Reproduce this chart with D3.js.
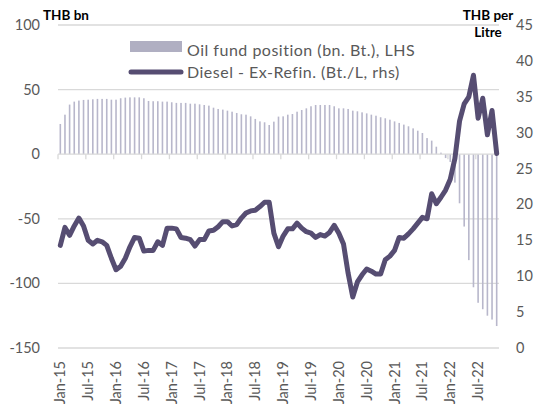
<!DOCTYPE html>
<html>
<head>
<meta charset="utf-8">
<script src="https://cdn.jsdelivr.net/npm/d3@7"></script>
<style>
  body { margin: 0; background: #fff; }
  svg text { font-family: Lato, "Open Sans", sans-serif; }
</style>
</head>
<body>
<div id="chart"></div>
<script>
// Monthly categories Jan-15 .. Nov-22
const months = d3.utcMonth.range(new Date(Date.UTC(2015, 0, 1)), new Date(Date.UTC(2022, 11, 1)));

// Oil fund position, THB bn (left axis)
const oilFund = [
    23.4, 30.6, 38.4, 40.7, 41.5, 42.0, 42.2, 42.5, 42.8, 42.8, 42.8, 42.2,
    42.2, 43.3, 43.8, 44.0, 44.0, 44.0, 43.3, 41.2, 41.0, 41.0, 40.7, 40.7,
    40.2, 39.7, 39.7, 39.7, 39.1, 39.1, 38.6, 38.1, 37.6, 36.0, 35.0, 34.5,
    33.7, 32.9, 31.9, 30.9, 30.6, 29.3, 27.3, 25.4, 24.7, 22.6, 25.2, 29.1,
    29.3, 30.6, 31.1, 32.9, 34.2, 35.5, 37.1, 38.1, 38.1, 38.1, 38.1, 37.1,
    35.5, 35.5, 35.0, 33.7, 33.2, 32.4, 31.6, 30.6, 29.8, 28.6, 27.8, 26.7,
    25.4, 24.2, 22.9, 21.6, 20.0, 18.2, 16.4, 12.5, 10.5, 5.8, 1.2, -3,
    -6, -22, -38, -56, -82, -103, -115, -120, -125, -128, -133
];

// Diesel ex-refinery price, Bt./L (right axis)
const diesel = [
    14.3, 16.8, 15.7, 17.0, 18.1, 17.0, 15.0, 14.5, 15.0, 14.8, 14.3, 12.5,
    10.9, 11.4, 12.5, 14.1, 15.4, 15.3, 13.5, 13.6, 13.6, 14.8, 14.3, 16.7,
    16.7, 16.6, 15.4, 15.3, 15.1, 14.2, 15.1, 15.1, 16.3, 16.4, 16.9, 17.6,
    17.6, 17.0, 17.2, 18.1, 18.8, 19.1, 19.2, 19.7, 20.3, 20.3, 16.0, 14.1,
    15.6, 16.6, 16.6, 17.4, 16.7, 16.2, 16.0, 15.4, 15.8, 15.6, 16.1, 17.1,
    16.0, 14.5, 10.4, 7.1, 9.2, 10.2, 11.0, 10.7, 10.3, 10.3, 12.3, 12.8,
    13.6, 15.4, 15.3, 15.9, 16.6, 17.4, 18.2, 18.0, 21.5, 20.1, 21.0, 22.0,
    23.5, 26.4, 31.6, 34.0, 35.0, 38.0, 32.0, 34.8, 29.7, 33.1, 27.1
];

const xTickLabels = ["Jan-15", "Jul-15", "Jan-16", "Jul-16", "Jan-17", "Jul-17", "Jan-18", "Jul-18",
    "Jan-19", "Jul-19", "Jan-20", "Jul-20", "Jan-21", "Jul-21", "Jan-22", "Jul-22"];
const leftTicks = [100, 50, 0, -50, -100, -150];
const rightTicks = [45, 40, 35, 30, 25, 20, 15, 10, 5, 0];

const width = 537, height = 410;
const fmt = d3.utcFormat("%b-%y");
const data = months.map((m, i) => ({ label: fmt(m), fund: oilFund[i], diesel: diesel[i] }));

const svg = d3.select("#chart").append("svg")
    .attr("width", width)
    .attr("height", height);

const x = d3.scaleBand().domain(data.map(d => d.label)).range([58, 499]).padding(0);
const yL = d3.scaleLinear().domain([-150, 100]).range([348, 25]);
const yR = d3.scaleLinear().domain([0, 45]).range([348, 25]);

const gridColor = "#d9d9d9";
const textColor = "#595959";
const lineColor = "#564d72";

// gridlines
svg.append("g")
    .selectAll("line")
    .data(leftTicks.filter(v => v !== 0))
    .join("line")
    .attr("x1", 58).attr("x2", 499)
    .attr("y1", d => yL(d)).attr("y2", d => yL(d))
    .attr("stroke", gridColor).attr("stroke-width", 1.3);

// bars
const barW = 1.6;
svg.append("g")
    .selectAll("rect")
    .data(data)
    .join("rect")
    .attr("x", d => x(d.label) + x.bandwidth() / 2 - barW / 2)
    .attr("width", barW)
    .attr("y", d => yL(Math.max(0, d.fund)))
    .attr("height", d => Math.abs(yL(d.fund) - yL(0)))
    .attr("fill", "#b8b7cb");

// zero axis with ticks every 6 months
const axisG = svg.append("g");
axisG.append("line")
    .attr("x1", 58).attr("x2", 499)
    .attr("y1", yL(0)).attr("y2", yL(0))
    .attr("stroke", gridColor).attr("stroke-width", 1.3);
axisG.selectAll("line.tick")
    .data(d3.range(0, data.length + 1, 6))
    .join("line")
    .attr("class", "tick")
    .attr("x1", i => 58 + i * x.step()).attr("x2", i => 58 + i * x.step())
    .attr("y1", yL(0)).attr("y2", yL(0) + 5)
    .attr("stroke", gridColor).attr("stroke-width", 1.3);

// line
const line = d3.line()
    .x(d => x(d.label) + x.bandwidth() / 2)
    .y(d => yR(d.diesel));
svg.append("path")
    .datum(data)
    .attr("d", line)
    .attr("fill", "none")
    .attr("stroke", lineColor)
    .attr("stroke-width", 5)
    .attr("stroke-linejoin", "round")
    .attr("stroke-linecap", "round");

// left axis labels
svg.append("g")
    .selectAll("text")
    .data(leftTicks)
    .join("text")
    .attr("x", 40)
    .attr("y", d => yL(d) + 5)
    .attr("text-anchor", "end")
    .attr("fill", textColor)
    .style("font-size", "14.5px")
    .text(d => d);

// right axis labels
svg.append("g")
    .selectAll("text")
    .data(rightTicks)
    .join("text")
    .attr("x", 516)
    .attr("y", d => yR(d) + 5)
    .attr("fill", textColor)
    .style("font-size", "14.5px")
    .text(d => d);

// x labels, rotated
svg.append("g")
    .selectAll("text")
    .data(xTickLabels)
    .join("text")
    .attr("transform", d => `translate(${x(d) + x.bandwidth() / 2 + 5},361) rotate(-90)`)
    .attr("text-anchor", "end")
    .attr("fill", textColor)
    .style("font-size", "14.5px")
    .text(d => d);

// axis titles
const titleStyle = sel => sel.style("font-size", "13.5px").style("font-weight", "bold").attr("fill", "#000");
svg.append("text").attr("x", 43).attr("y", 20).call(titleStyle).text("THB bn");
svg.append("text").attr("x", 488).attr("y", 20).attr("text-anchor", "middle").call(titleStyle).text("THB per");
svg.append("text").attr("x", 488).attr("y", 37).attr("text-anchor", "middle").call(titleStyle).text("Litre");

// legend
const legend = svg.append("g");
legend.append("rect")
    .attr("x", 130).attr("y", 41)
    .attr("width", 52).attr("height", 11)
    .attr("fill", "#b0afc2");
legend.append("text")
    .attr("x", 187).attr("y", 56)
    .attr("fill", textColor)
    .style("font-size", "16px")
    .style("letter-spacing", "0.5px")
    .text("Oil fund position (bn. Bt.), LHS");
legend.append("line")
    .attr("x1", 131).attr("x2", 181)
    .attr("y1", 72).attr("y2", 72)
    .attr("stroke", lineColor)
    .attr("stroke-width", 5)
    .attr("stroke-linecap", "round");
legend.append("text")
    .attr("x", 187).attr("y", 78)
    .attr("fill", textColor)
    .style("font-size", "16px")
    .style("letter-spacing", "0.5px")
    .text("Diesel - Ex-Refin. (Bt./L, rhs)");
</script>
</body>
</html>
